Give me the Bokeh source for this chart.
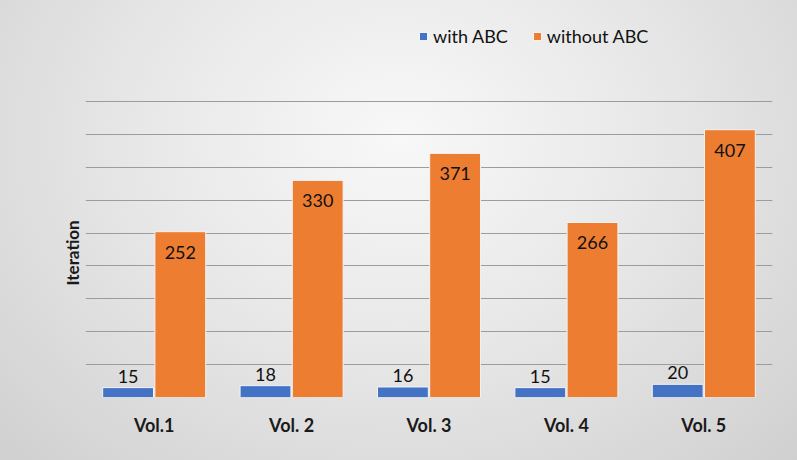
from bokeh.plotting import figure
from bokeh.models import ColumnDataSource, FactorRange, FixedTicker, Legend, LegendItem, Title
from bokeh.transform import dodge
from bokeh.core.properties import value
from bokeh.embed import file_html
from bokeh.resources import INLINE

categories = ["Vol.1", "Vol. 2", "Vol. 3", "Vol. 4", "Vol. 5"]
with_abc = [15, 18, 16, 15, 20]
without_abc = [252, 330, 371, 266, 407]
series_names = ["with ABC", "without ABC"]
y_ticks = list(range(0, 451, 50))

BLUE = "#4472C4"
ORANGE = "#ED7D31"
FONT = "Lato"

src = ColumnDataSource(dict(
    cat=categories,
    w=with_abc,
    wo=without_abc,
    wl=[str(v) for v in with_abc],
    wol=[str(v) for v in without_abc],
))

p = figure(
    width=797, height=460,
    x_range=FactorRange(*categories, range_padding=0.0),
    y_range=(0, 573),
    output_backend="svg", toolbar_location=None,
    min_border_left=85, min_border_right=25, min_border_top=20, min_border_bottom=63,
)
p.styles = {"background": "radial-gradient(ellipse at 50% 30%, #f8f8f8 0%, #e8e8e8 45%, #d0d0d0 100%)"}
p.background_fill_alpha = 0
p.border_fill_alpha = 0
p.outline_line_color = None

r1 = p.vbar(x=dodge("cat", -0.19, range=p.x_range), top="w", width=0.37, source=src,
            fill_color=BLUE, line_color="#f4f4f4", line_width=1)
r2 = p.vbar(x=dodge("cat", 0.19, range=p.x_range), top="wo", width=0.37, source=src,
            fill_color=ORANGE, line_color="#f4f4f4", line_width=1)

p.text(x=dodge("cat", -0.19, range=p.x_range), y="w", text="wl", source=src,
       text_align="center", text_baseline="bottom", y_offset=-5,
       text_font=value(FONT), text_font_size="18px", text_color="#111111")
p.text(x=dodge("cat", 0.19, range=p.x_range), y="wo", text="wol", source=src,
       text_align="center", text_baseline="top", y_offset=14,
       text_font=value(FONT), text_font_size="18px", text_color="#111111")

p.ygrid.ticker = FixedTicker(ticks=y_ticks)
p.ygrid.grid_line_color = "#9c9c9c"
p.ygrid.grid_line_width = 1.2
p.xgrid.grid_line_color = None

p.yaxis.visible = False

p.xaxis.axis_line_color = None
p.xaxis.major_tick_line_color = None
p.xaxis.minor_tick_line_color = None
p.xaxis.major_label_text_font = FONT
p.xaxis.major_label_text_font_style = "bold"
p.xaxis.major_label_text_font_size = "18px"
p.xaxis.major_label_text_color = "#1a1a1a"
p.xaxis.major_label_standoff = 10

ytitle = Title(text="Iteration", align="left", offset=112, standoff=6,
               text_font=FONT, text_font_style="bold", text_font_size="17px",
               text_color="#1a1a1a")
p.add_layout(ytitle, "left")

legend = Legend(items=[LegendItem(label=series_names[0], renderers=[r1]),
                       LegendItem(label=series_names[1], renderers=[r2])],
                orientation="horizontal", location=(333, 350),
                background_fill_alpha=0, border_line_color=None,
                label_text_font=FONT, label_text_font_size="18px", label_text_color="#111111",
                glyph_width=10, glyph_height=10, spacing=24, label_standoff=5, padding=0, margin=0)
p.add_layout(legend, "center")

open("out.html", "w").write(file_html(p, INLINE))
